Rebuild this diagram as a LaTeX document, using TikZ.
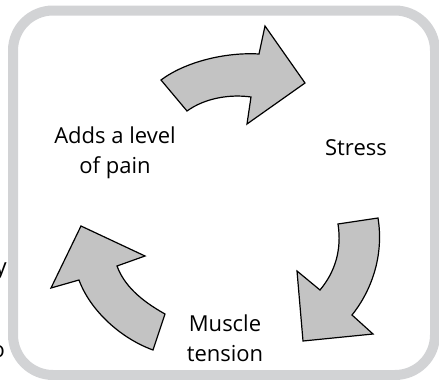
\documentclass[tikz,border=0pt]{standalone}
\usepackage{fontspec}
\setmainfont{Open Sans}
\usepackage{xcolor}
\usepackage{tikz}
\usetikzlibrary{positioning}
\definecolor{frm}{RGB}{210,211,213}
\definecolor{arw}{RGB}{195,195,195}

\begin{document}
\begin{tikzpicture}[x=1pt,y=-1pt,
  lbl/.style={align=center,inner sep=0pt,font=\fontsize{22}{30}\selectfont},
  cyc/.style={draw=black,fill=arw,line width=1.2pt,line join=miter}]
  \useasboundingbox (0,0) rectangle (439,380);
  \draw[frm,line width=10pt,rounded corners=40pt] (13,10.5) rectangle (435,375);
  \node[lbl] (pain) at (115,153) {Adds a level\\of pain};
  \node[lbl] (stress) at (356,148) {Stress};
  \node[lbl] (tension) at (225,338) {Muscle\\tension};
  % cut-off text at the left edge
  \node[lbl,anchor=base east] (fy) at (7,274) {y};
  \node[lbl,anchor=base east] (fo) at (5,357) {o};
  % the three arrows
  \draw[cyc] (161,80) -- (187,111) .. controls (205,98) and (230,94) .. (251,97)
    -- (247,124) -- (305,83) -- (265,26) -- (259,54)
    .. controls (225,52) and (185,62) .. (161,80) -- cycle;
  \draw[cyc] (338,224) -- (378,218) .. controls (384,255) and (372,290) .. (352,315)
    -- (373,334) -- (303,341) -- (297,271) -- (320,290)
    .. controls (335,272) and (342,250) .. (338,224) -- cycle;
  \draw[cyc] (153,350) -- (165,314) .. controls (140,300) and (124,285) .. (117,266)
    -- (145,256) -- (81,226) -- (51,288) -- (79,280)
    .. controls (90,310) and (120,338) .. (153,350) -- cycle;
\end{tikzpicture}
\end{document}
